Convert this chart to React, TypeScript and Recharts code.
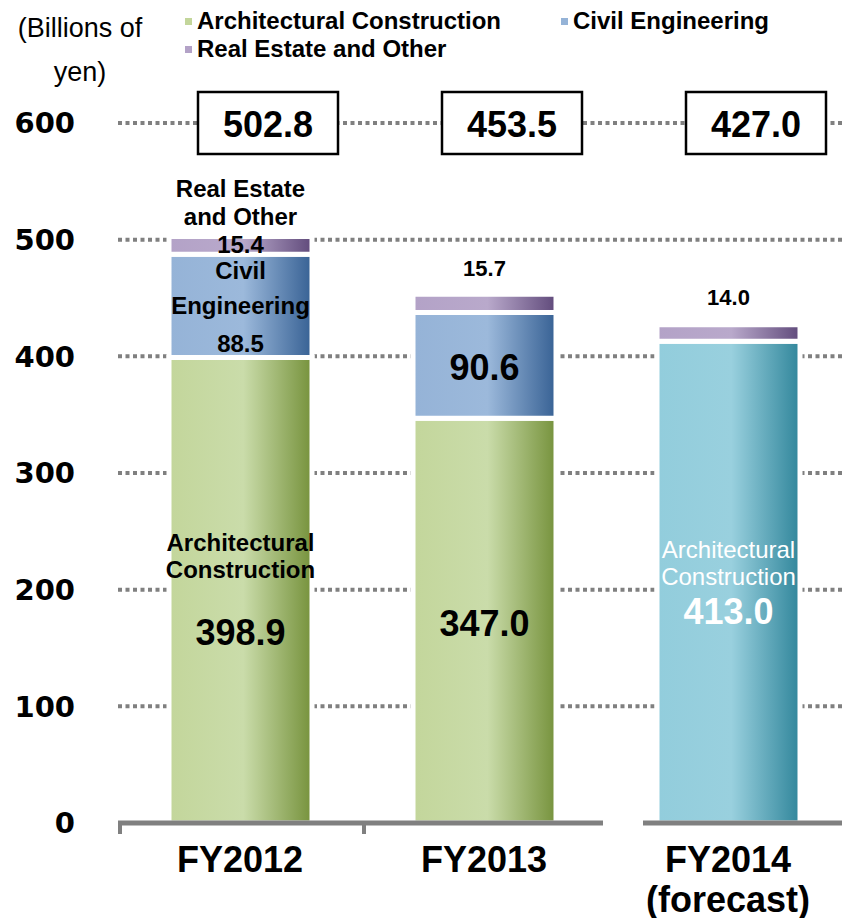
import React from 'react';
import { BarChart, Bar, XAxis, YAxis, CartesianGrid, Cell, LabelList, ReferenceDot } from 'recharts';

const categories = ['FY2012', 'FY2013', 'FY2014'];
const categorySubLabels = ['', '', '(forecast)'];
const architectural = [398.9, 347.0, 413.0];
const civilEngineering = [88.5, 90.6, 0];
const realEstateOther = [15.4, 15.7, 14.0];
const totals = [502.8, 453.5, 427.0];
const yTicks = [0, 100, 200, 300, 400, 500, 600];
const gridValues = [100, 200, 300, 400, 500, 600];
const seriesNames = ['Architectural Construction', 'Civil Engineering', 'Real Estate and Other'];
const archLabelLines = [['Architectural', 'Construction'], [], ['Architectural', 'Construction']];
const civilLabelLines = [['Civil', 'Engineering'], [], []];
const otherLabelLines = [['Real Estate', 'and Other'], [], []];

const data = categories.map((c, i) => ({
  category: c,
  sub: categorySubLabels[i],
  arch: architectural[i],
  civil: civilEngineering[i],
  other: realEstateOther[i],
  total: totals[i],
}));

const FONT = '"Liberation Sans", Arial, sans-serif';
const GRAY = '#808080';

// label layout styles: offsets relative to bar vertical center
const archLayout = [
  { lines: [-47.5, -20.5], value: 42.5, lineSize: 24, valueSize: 36, color: '#000', lineWeight: 'bold' },
  { lines: [], value: 2.5, lineSize: 24, valueSize: 36, color: '#000', lineWeight: 'bold' },
  { lines: [-33, -6], value: 29, lineSize: 24, valueSize: 36, color: '#fff', lineWeight: 'normal' },
];
const civilLayout = [
  { lines: [-35, 0], value: 38, lineSize: 24, valueSize: 24, color: '#000', lineWeight: 'bold' },
  { lines: [], value: 2, lineSize: 24, valueSize: 36, color: '#000', lineWeight: 'bold' },
  null,
];
const otherLayout = [
  { lines: [-57, -29], value: -1, lineSize: 24, valueSize: 24, color: '#000', lineWeight: 'bold' },
  { lines: [], value: -35, lineSize: 22, valueSize: 22, color: '#000', lineWeight: 'bold' },
  { lines: [], value: -36, lineSize: 22, valueSize: 22, color: '#000', lineWeight: 'bold' },
];

function makeLabel(layout: any[], texts: string[][]) {
  return (props: any) => {
    const { x, y, width, height, value, index } = props;
    const L = layout[index];
    if (!L || !value) return null;
    const cx = Number(x) + Number(width) / 2;
    const cy = Number(y) + Number(height) / 2;
    const lines = texts[index] || [];
    return (
      <g>
        {lines.map((t, k) => (
          <text key={k} x={cx} y={cy + L.lines[k]} textAnchor="middle" dominantBaseline="central"
            fontFamily={FONT} fontSize={L.lineSize} fontWeight={L.lineWeight} fill={L.color}>{t}</text>
        ))}
        <text x={cx} y={cy + L.value} textAnchor="middle" dominantBaseline="central"
          fontFamily={FONT} fontSize={L.valueSize} fontWeight="bold" fill={L.color}>{Number(value).toFixed(1)}</text>
      </g>
    );
  };
}

// axis line broken between actual and forecast, tick marks at band edges
const XTick = (props: any) => {
  const { x, y, payload, index, width, visibleTicksCount } = props;
  const n = visibleTicksCount || categories.length;
  const band = width && n ? width / n : 244;
  const sub = categorySubLabels[index];
  const left = x - band / 2;
  const right = x + band / 2;
  const isForecast = !!sub;
  const nextIsForecast = !!categorySubLabels[index + 1];
  const segStart = isForecast ? left + 37 : left;
  const segEnd = nextIsForecast ? right - 3 : right;
  return (
    <g>
      <line x1={segStart} x2={segEnd} y1={y} y2={y} stroke={GRAY} strokeWidth={5} />
      {!isForecast ? (
        <line x1={left + 2} x2={left + 2} y1={y} y2={y + 11} stroke={GRAY} strokeWidth={4} />
      ) : (
        <line x1={right - 2} x2={right - 2} y1={y} y2={y + 11} stroke={GRAY} strokeWidth={4} />
      )}
      <text x={x} y={y + 36} textAnchor="middle" dominantBaseline="central" fontFamily={FONT} fontSize={36} fontWeight="bold" fill="#000">{payload.value}</text>
      {sub ? (
        <text x={x} y={y + 76} textAnchor="middle" dominantBaseline="central" fontFamily={FONT} fontSize={36} fontWeight="bold" fill="#000">{sub}</text>
      ) : null}
    </g>
  );
};

const TotalBox = (props: any) => {
  const { cx, cy, value } = props;
  const w = 140, h = 62, dx = 28;
  return (
    <g>
      <rect x={cx + dx - w / 2} y={cy - h / 2} width={w} height={h} fill="#fff" stroke="#000" strokeWidth={2.5} />
      <text x={cx + dx} y={cy + 1} textAnchor="middle" dominantBaseline="central" fontFamily={FONT} fontSize={36} fontWeight="bold" fill="#000">{value}</text>
    </g>
  );
};

const legendColors = ['#c3d69b', '#95b3d7', '#b3a2c7'];
const legendPos = [
  { left: 177, top: 13 },
  { left: 553, top: 13 },
  { left: 177, top: 41 },
];

export default function App() {
  return (
    <div style={{ position: 'relative', width: 842, height: 910 }}>
      <div style={{ position: 'absolute', left: 0, top: 0, width: 144, textAlign: 'center', fontFamily: FONT, fontSize: 27, color: '#000' }}>
        <div style={{ position: 'absolute', left: 0, width: 144, top: 20 - 16, lineHeight: '32px' }}>(Billions of</div>
        <div style={{ position: 'absolute', left: 0, width: 144, top: 64 - 16, lineHeight: '32px' }}>yen)</div>
      </div>
      {seriesNames.map((n, i) => (
        <div key={n} style={{ position: 'absolute', left: legendPos[i].left, top: legendPos[i].top - 14, height: 28, display: 'flex', alignItems: 'center', fontFamily: FONT, fontSize: 24, fontWeight: 'bold', whiteSpace: 'nowrap', color: '#000' }}>
          <span style={{ display: 'inline-block', width: 7, height: 7, background: legendColors[i], marginRight: 5 }} />
          <span>{n}</span>
        </div>
      ))}
      <BarChart width={842} height={910} data={data} margin={{ top: 115, right: 0, left: 0, bottom: 5 }}>
        <defs>
          <linearGradient id="gGreen" x1="0" y1="0" x2="1" y2="0">
            <stop offset="0" stopColor="#c3d69b" />
            <stop offset="0.52" stopColor="#cadcaa" />
            <stop offset="1" stopColor="#76923c" />
          </linearGradient>
          <linearGradient id="gBlue" x1="0" y1="0" x2="1" y2="0">
            <stop offset="0" stopColor="#95b3d7" />
            <stop offset="0.52" stopColor="#9cb9db" />
            <stop offset="1" stopColor="#376194" />
          </linearGradient>
          <linearGradient id="gPurple" x1="0" y1="0" x2="1" y2="0">
            <stop offset="0" stopColor="#b3a2c7" />
            <stop offset="0.52" stopColor="#b9a9cb" />
            <stop offset="1" stopColor="#604a7b" />
          </linearGradient>
          <linearGradient id="gTeal" x1="0" y1="0" x2="1" y2="0">
            <stop offset="0" stopColor="#92cddc" />
            <stop offset="0.52" stopColor="#99d0de" />
            <stop offset="1" stopColor="#31869b" />
          </linearGradient>
        </defs>
        <CartesianGrid vertical={false} horizontalValues={gridValues} stroke={GRAY} strokeWidth={4} strokeDasharray="4 3.5" />
        <XAxis dataKey="category" axisLine={false} tickLine={false} tickSize={0} tickMargin={0} height={90} interval={0} tick={<XTick />} />
        <YAxis domain={[0, 600]} ticks={yTicks} interval={0} width={110} axisLine={false} tickLine={false} tickSize={0} tickMargin={43}
          tick={{ fontFamily: '"DejaVu Sans", sans-serif', fontSize: 29, fontWeight: 'bold', fill: '#000' }} />
        <Bar dataKey="arch" stackId="a" barSize={143} stroke="#fff" strokeWidth={5} isAnimationActive={false}>
          {data.map((d, i) => (
            <Cell key={i} fill={d.sub ? 'url(#gTeal)' : 'url(#gGreen)'} />
          ))}
          <LabelList dataKey="arch" content={makeLabel(archLayout, archLabelLines)} />
        </Bar>
        <Bar dataKey="civil" stackId="a" barSize={143} fill="url(#gBlue)" stroke="#fff" strokeWidth={5} isAnimationActive={false}>
          <LabelList dataKey="civil" content={makeLabel(civilLayout, civilLabelLines)} />
        </Bar>
        <Bar dataKey="other" stackId="a" barSize={143} fill="url(#gPurple)" stroke="#fff" strokeWidth={5} isAnimationActive={false}>
          <LabelList dataKey="other" content={makeLabel(otherLayout, otherLabelLines)} />
        </Bar>
        {data.map((d) => (
          <ReferenceDot key={d.category} x={d.category} y={600} r={1} ifOverflow="visible"
            shape={(p: any) => <TotalBox {...p} value={d.total.toFixed(1)} />} />
        ))}
      </BarChart>
    </div>
  );
}
